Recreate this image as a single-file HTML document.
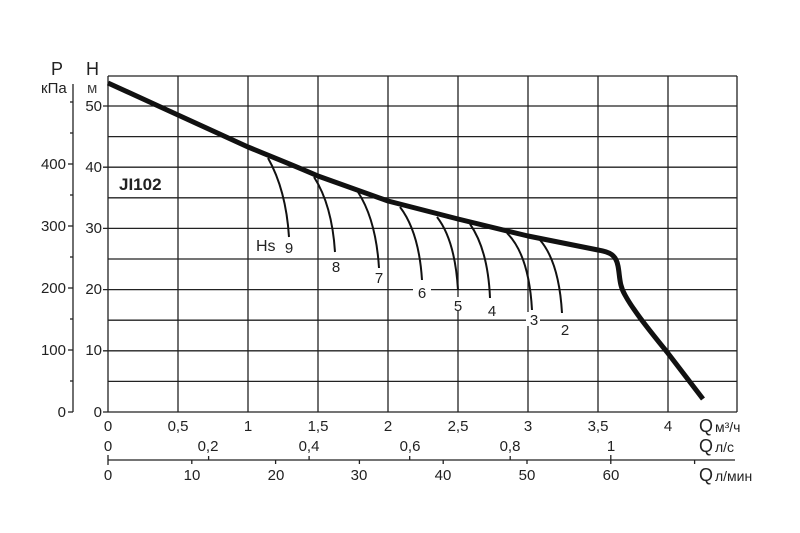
<!DOCTYPE html>
<html><head><meta charset="utf-8"><style>
html,body{margin:0;padding:0;background:#fff;}
svg{display:block;font-family:"Liberation Sans",sans-serif;}
</style></head><body>
<svg width="800" height="533" viewBox="0 0 800 533" xmlns="http://www.w3.org/2000/svg">
<rect width="800" height="533" fill="#fff"/>
<g stroke="#222" stroke-width="1.3" fill="none">
<line x1="108" y1="76" x2="108" y2="412"/>
<line x1="178" y1="76" x2="178" y2="412"/>
<line x1="248" y1="76" x2="248" y2="412"/>
<line x1="318" y1="76" x2="318" y2="412"/>
<line x1="388" y1="76" x2="388" y2="412"/>
<line x1="458" y1="76" x2="458" y2="412"/>
<line x1="528" y1="76" x2="528" y2="412"/>
<line x1="598" y1="76" x2="598" y2="412"/>
<line x1="668" y1="76" x2="668" y2="412"/>
<line x1="737" y1="76" x2="737" y2="412"/>
<line x1="108" y1="76" x2="737" y2="76"/>
<line x1="103" y1="106" x2="737" y2="106"/>
<line x1="108" y1="136.6" x2="737" y2="136.6"/>
<line x1="103" y1="167.2" x2="737" y2="167.2"/>
<line x1="108" y1="197.8" x2="737" y2="197.8"/>
<line x1="103" y1="228.4" x2="737" y2="228.4"/>
<line x1="108" y1="259" x2="737" y2="259"/>
<line x1="103" y1="289.6" x2="737" y2="289.6"/>
<line x1="108" y1="320.2" x2="737" y2="320.2"/>
<line x1="103" y1="350.8" x2="737" y2="350.8"/>
<line x1="108" y1="381.4" x2="737" y2="381.4"/>
<line x1="103" y1="412" x2="737" y2="412"/>
<line x1="73" y1="84" x2="73" y2="412"/>
<line x1="68" y1="412" x2="73" y2="412"/>
<line x1="70" y1="381" x2="73" y2="381"/>
<line x1="68" y1="350" x2="73" y2="350"/>
<line x1="70" y1="319" x2="73" y2="319"/>
<line x1="68" y1="288" x2="73" y2="288"/>
<line x1="70" y1="257" x2="73" y2="257"/>
<line x1="68" y1="226" x2="73" y2="226"/>
<line x1="70" y1="195" x2="73" y2="195"/>
<line x1="68" y1="164" x2="73" y2="164"/>
<line x1="70" y1="133" x2="73" y2="133"/>
<line x1="70" y1="102" x2="73" y2="102"/>
<line x1="108" y1="460" x2="735" y2="460"/>
<line x1="108" y1="455" x2="108" y2="465"/>
<line x1="191.8" y1="460" x2="191.8" y2="464"/>
<line x1="275.6" y1="460" x2="275.6" y2="464"/>
<line x1="359.4" y1="460" x2="359.4" y2="464"/>
<line x1="443.2" y1="460" x2="443.2" y2="464"/>
<line x1="527" y1="460" x2="527" y2="464"/>
<line x1="610.8" y1="460" x2="610.8" y2="464"/>
<line x1="694.6" y1="460" x2="694.6" y2="464"/>
<line x1="208.6" y1="456" x2="208.6" y2="460"/>
<line x1="309.1" y1="456" x2="309.1" y2="460"/>
<line x1="409.7" y1="456" x2="409.7" y2="460"/>
<line x1="510.2" y1="456" x2="510.2" y2="460"/>
<line x1="610.8" y1="455" x2="610.8" y2="460"/>
</g>
<g fill="#fff">
<rect x="413" y="283" width="18" height="14"/>
<rect x="450" y="297" width="14" height="14"/>
<rect x="526" y="312" width="14" height="14"/>
</g>
<g stroke="#111" stroke-width="2" fill="none">
<path d="M268,158 Q286,190 289,237"/>
<path d="M314,177 Q332,205 335,252"/>
<path d="M358,192 Q376,220 379,268"/>
<path d="M400,207 Q419,232 422,280"/>
<path d="M437,217 Q455,240 458,290"/>
<path d="M470,224 Q488,250 490,298"/>
<path d="M507,233 Q529,255 532,310"/>
<path d="M540,240 Q559,262 562,313"/>
</g>
<path d="M108,83 L178,115 L248,147 C275,158 300,168 318,176 L388,201 L458,219 L528,236 L598,250 C610,252 616,255 618,266 C620,276 619,285 625,295 C632,308 645,325 667,352 L703,399" stroke="#111" stroke-width="5" fill="none" stroke-linejoin="round"/>
<g fill="#222" font-size="15">
<text x="51" y="75" font-size="18">P</text>
<text x="86" y="75" font-size="18">H</text>
<text x="41" y="93" font-size="15">кПа</text>
<text x="87" y="93" font-size="15" fill="#444">м</text>
<g text-anchor="end">
<text x="66" y="417">0</text>
<text x="66" y="355">100</text>
<text x="66" y="293">200</text>
<text x="66" y="231">300</text>
<text x="66" y="169">400</text>
<text x="102" y="417">0</text>
<text x="102" y="355">10</text>
<text x="102" y="294">20</text>
<text x="102" y="233">30</text>
<text x="102" y="172">40</text>
<text x="102" y="111">50</text>
</g>
<text x="119" y="190" font-size="17" font-weight="bold">JI102</text>
<text x="256" y="251" font-size="16">Hs</text>
<g text-anchor="middle">
<text x="289" y="253">9</text>
<text x="336" y="272">8</text>
<text x="379" y="283">7</text>
<text x="422" y="298">6</text>
<text x="458" y="311">5</text>
<text x="492" y="316">4</text>
<text x="534" y="325">3</text>
<text x="565" y="335">2</text>
<text x="108" y="431">0</text>
<text x="178" y="431">0,5</text>
<text x="248" y="431">1</text>
<text x="318" y="431">1,5</text>
<text x="388" y="431">2</text>
<text x="458" y="431">2,5</text>
<text x="528" y="431">3</text>
<text x="598" y="431">3,5</text>
<text x="668" y="431">4</text>
<text x="108" y="451">0</text>
<text x="208" y="451">0,2</text>
<text x="309" y="451">0,4</text>
<text x="410" y="451">0,6</text>
<text x="510" y="451">0,8</text>
<text x="611" y="451">1</text>
<text x="108" y="480">0</text>
<text x="192" y="480">10</text>
<text x="276" y="480">20</text>
<text x="359" y="480">30</text>
<text x="443" y="480">40</text>
<text x="527" y="480">50</text>
<text x="611" y="480">60</text>
</g>
<text x="699" y="432" font-size="18">Q</text><text x="715" y="432" font-size="14">м³/ч</text>
<text x="699" y="452" font-size="18">Q</text><text x="715" y="452" font-size="14">л/с</text>
<text x="699" y="481" font-size="18">Q</text><text x="715" y="481" font-size="14">л/мин</text>
</g>
</svg>
</body></html>
